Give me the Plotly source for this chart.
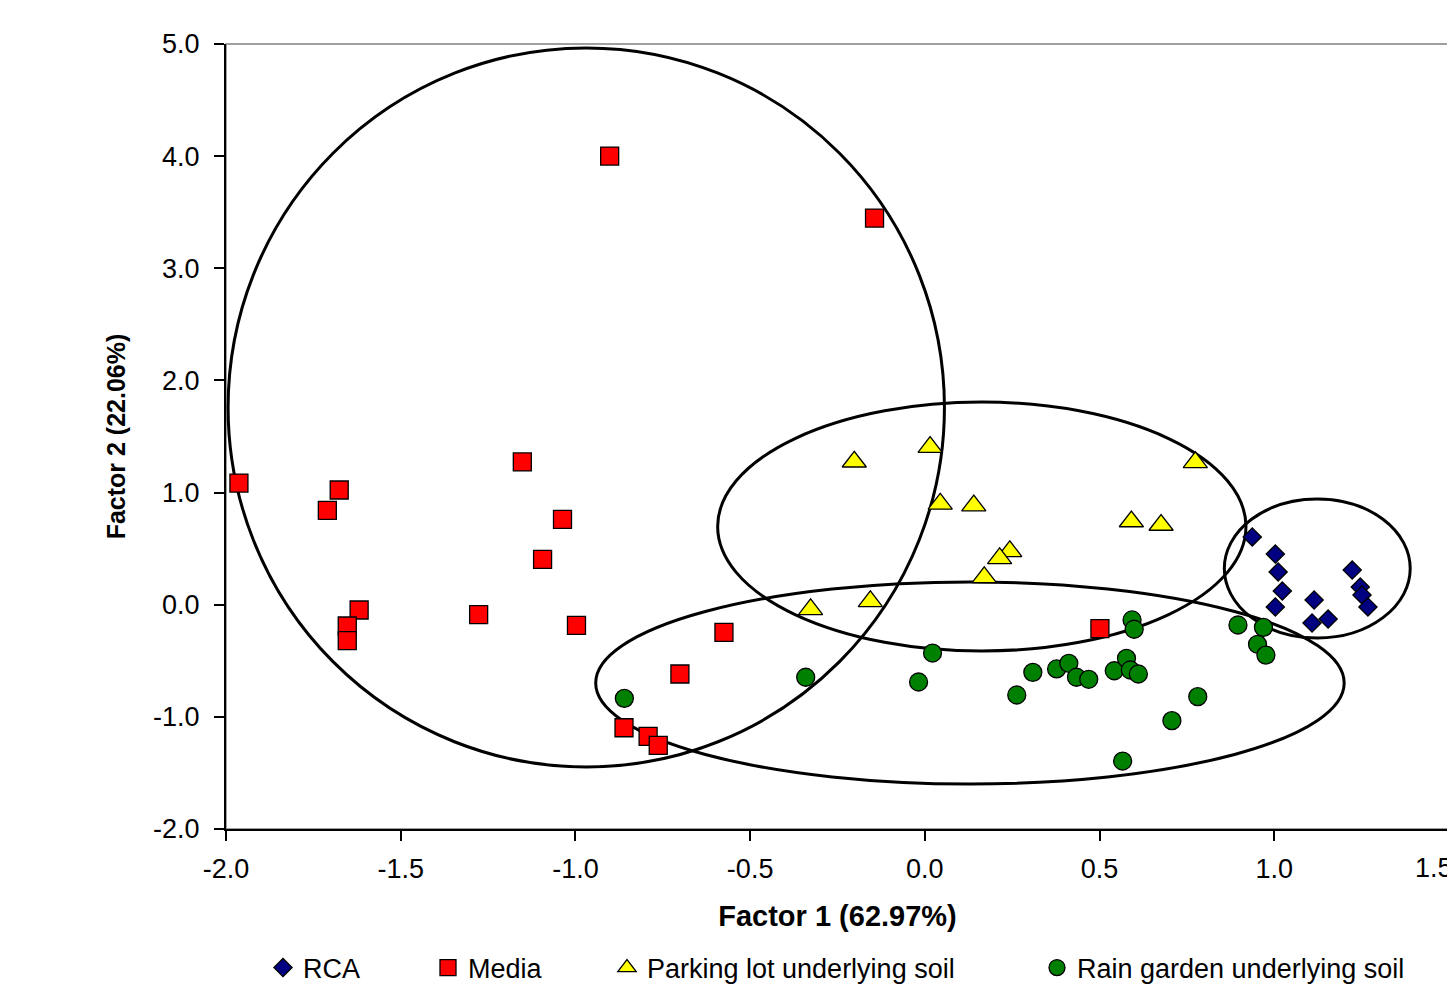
import plotly.graph_objects as go

# ---- data ----
rca_x = [0.937, 1.003, 1.011, 1.023, 1.003, 1.114, 1.108, 1.154, 1.223, 1.246, 1.251, 1.268]
rca_y = [0.604, 0.452, 0.292, 0.122, -0.020, 0.042, -0.163, -0.128, 0.309, 0.158, 0.087, -0.020]

media_x = [-1.963, -1.676, -1.710, -1.619, -1.653, -1.653, -1.277, -1.152, -1.037, -1.094,
           -0.997, -0.902, -0.144, -0.575, -0.701, -0.861, -0.792, -0.763, 0.501]
media_y = [1.085, 1.023, 0.842, -0.047, -0.190, -0.321, -0.089, 1.273, 0.761, 0.405,
           -0.184, 4.001, 3.448, -0.246, -0.618, -1.097, -1.174, -1.254, -0.214]

parking_x = [-0.202, 0.015, 0.044, 0.140, 0.243, 0.214, 0.170, -0.156, -0.327, 0.591, 0.676, 0.774]
parking_y = [1.275, 1.405, 0.899, 0.884, 0.476, 0.413, 0.244, 0.030, -0.042, 0.742, 0.711, 1.270]

rain_x = [0.593, 0.599, 0.309, 0.377, 0.412, 0.434, 0.469, 0.263, 0.542, 0.577, 0.588, 0.611,
          0.781, 0.707, 0.566, 0.896, 0.969, 0.952, 0.976, -0.860, -0.341, -0.018, 0.022]
rain_y = [-0.136, -0.219, -0.603, -0.573, -0.523, -0.647, -0.665, -0.805, -0.589, -0.478, -0.582, -0.618,
          -0.820, -1.034, -1.394, -0.181, -0.202, -0.353, -0.449, -0.835, -0.647, -0.689, -0.431]

# group ellipses (Media, Parking lot, Rain garden, RCA)
ell_cx = [-0.969, 0.163, 0.129, 1.123]
ell_cy = [1.759, 0.697, -0.698, 0.323]
ell_rx = [1.025, 0.756, 1.071, 0.266]
ell_ry = [3.206, 1.110, 0.901, 0.620]

series_names = ["RCA", "Media", "Parking lot underlying soil", "Rain garden underlying soil"]
x_tickvals = [-2.0, -1.5, -1.0, -0.5, 0.0, 0.5, 1.0, 1.5]
x_ticktext = ["-2.0", "-1.5", "-1.0", "-0.5", "0.0", "0.5", "1.0", "1.5"]
y_tickvals = [-2.0, -1.0, 0.0, 1.0, 2.0, 3.0, 4.0, 5.0]
y_ticktext = ["-2.0", "-1.0", "0.0", "1.0", "2.0", "3.0", "4.0", "5.0"]

FONT = "Liberation Sans, Arial, sans-serif"
TS = 27  # tick / legend font size

fig = go.Figure()
specs = [
    (rca_x, rca_y, "diamond", 14, "#000080"),
    (media_x, media_y, "square", 18, "#FF0000"),
    (parking_x, parking_y, "triangle-up", 21, "#FFFF00"),
    (rain_x, rain_y, "circle", 18, "#008000"),
]
legend_ids = ["legend", "legend2", "legend3", "legend4"]
for (xs, ys, sym, sz, col), name, lg in zip(specs, series_names, legend_ids):
    fig.add_trace(go.Scatter(
        x=xs, y=ys, mode="markers", name=name, legend=lg, showlegend=True,
        marker=dict(symbol=sym, size=sz, color=col, line=dict(color="black", width=1.3)),
    ))

for cx, cy, rx, ry in zip(ell_cx, ell_cy, ell_rx, ell_ry):
    fig.add_shape(type="circle", xref="x", yref="y", x0=cx - rx, x1=cx + rx,
                  y0=cy - ry, y1=cy + ry, line=dict(color="black", width=3), layer="below")

# gray frame
fig.add_shape(type="rect", xref="paper", yref="paper", x0=0, x1=1, y0=0, y1=1,
              line=dict(color="#808080", width=1.5), layer="below")

# last x tick label sits at the right edge of the page; drawn as an annotation
# (right-anchored so it stays readable and does not push the plot margin)
shown_ticktext = x_ticktext[:-1] + [""]
fig.add_annotation(x=x_tickvals[-1], xref="x", y=0, yref="paper", text=x_ticktext[-1],
                   showarrow=False, xanchor="right", yanchor="middle", yshift=-39, xshift=6,
                   font=dict(family=FONT, size=TS, color="black"))

# page has an 8px body margin; size the figure to fit the window
W, H = 1447, 984
leg_left = [255, 420, 599, 1029]
legends = {}
for lg, lx in zip(legend_ids, leg_left):
    legends[lg] = dict(xref="container", yref="container", x=lx / W, y=1 - 960 / H,
                       xanchor="left", yanchor="middle", orientation="h",
                       font=dict(family=FONT, size=TS, color="black"),
                       bgcolor="rgba(0,0,0,0)")

fig.update_layout(
    width=W, height=H,
    margin=dict(l=218, r=6, t=36, b=163),
    paper_bgcolor="white", plot_bgcolor="white",
    font=dict(family=FONT, size=TS, color="black"),
    showlegend=True,
    **legends,
)
fig.update_xaxes(
    range=[-2.0, 1.5], tickvals=x_tickvals, ticktext=shown_ticktext, automargin=False,
    showgrid=False, zeroline=False, showline=True, linecolor="black", linewidth=2,
    ticks="outside", ticklen=10, tickwidth=1.5, tickcolor="black",
    tickfont=dict(family=FONT, size=TS), ticklabelstandoff=5,
    title=dict(text="<b>Factor 1 (62.97%)</b>", font=dict(family=FONT, size=29), standoff=22),
)
fig.update_yaxes(
    range=[-2.0, 5.0], tickvals=y_tickvals, ticktext=y_ticktext, automargin=False,
    showgrid=False, zeroline=False, showline=True, linecolor="black", linewidth=2,
    ticks="outside", ticklen=10, tickwidth=1.5, tickcolor="black",
    tickfont=dict(family=FONT, size=TS), ticklabelstandoff=9,
    title=dict(text="<b>Factor 2 (22.06%)</b>", font=dict(family=FONT, size=25), standoff=20),
)

fig.write_html("out.html")
